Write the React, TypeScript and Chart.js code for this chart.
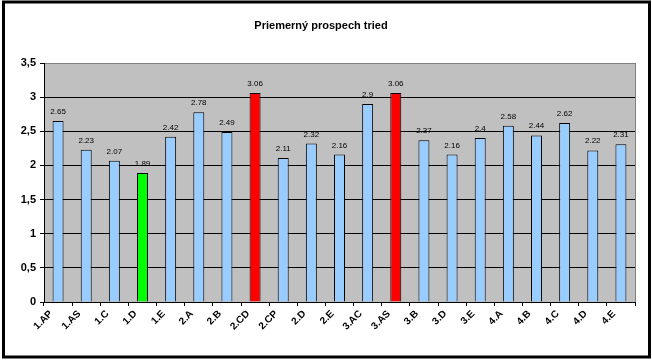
import React, { useEffect, useRef } from "react";
import { Chart, registerables } from "chart.js";

Chart.register(...registerables);

const TITLE = "Priemerný prospech tried";
const CATEGORIES = [
  "1.AP", "1.AS", "1.C", "1.D", "1.E", "2.A", "2.B", "2.CD", "2.CP", "2.D", "2.E",
  "3.AC", "3.AS", "3.B", "3.D", "3.E", "4.A", "4.B", "4.C", "4.D", "4.E",
];
const VALUES = [
  2.65, 2.23, 2.07, 1.89, 2.42, 2.78, 2.49, 3.06, 2.11, 2.32, 2.16,
  2.9, 3.06, 2.37, 2.16, 2.4, 2.58, 2.44, 2.62, 2.22, 2.31,
];
const RED_CATEGORIES = ["2.CD", "3.AS"];
const GREEN_CATEGORIES = ["1.D"];
const Y_MIN = 0;
const Y_MAX = 3.5;
const Y_STEP = 0.5;

const FONT = "'Liberation Sans', Arial, sans-serif";

const barColor = (c: string) =>
  RED_CATEGORIES.includes(c) ? "#ff0000" : GREEN_CATEGORIES.includes(c) ? "#00ff00" : "#99ccff";

const framePlugin = {
  id: "frame",
  beforeDraw(chart: any) {
    const { ctx, chartArea: a, width, height } = chart;
    ctx.save();
    ctx.fillStyle = "#ffffff";
    ctx.fillRect(0, 0, width, height);
    ctx.fillStyle = "#c0c0c0";
    ctx.fillRect(a.left, a.top, a.right - a.left, a.bottom - a.top);
    ctx.strokeStyle = "#808080";
    ctx.lineWidth = 1;
    ctx.strokeRect(a.left + 0.5, a.top + 0.5, a.right - a.left, a.bottom - a.top);
    ctx.restore();
  },
  afterDraw(chart: any) {
    const { ctx } = chart;
    ctx.save();
    // title
    ctx.fillStyle = "#000";
    ctx.font = `bold 11px ${FONT}`;
    ctx.textAlign = "center";
    ctx.textBaseline = "middle";
    ctx.fillText(TITLE, 321, 26);
    // outer frame
    ctx.strokeStyle = "#000";
    ctx.lineWidth = 3;
    ctx.strokeRect(3.5, 2, 646, 355);
    ctx.restore();
  },
  afterDatasetsDraw(chart: any) {
    const { ctx } = chart;
    const meta = chart.getDatasetMeta(0);
    ctx.save();
    ctx.fillStyle = "#000";
    ctx.font = `8px ${FONT}`;
    ctx.textAlign = "center";
    ctx.textBaseline = "alphabetic";
    meta.data.forEach((el: any, i: number) => {
      ctx.fillText(String(VALUES[i]), el.x, el.y - 7);
    });
    ctx.restore();
  },
};

export default function App() {
  const ref = useRef<HTMLCanvasElement | null>(null);
  useEffect(() => {
    if (!ref.current) return;
    const chart = new Chart(ref.current, {
      type: "bar",
      data: {
        labels: CATEGORIES,
        datasets: [
          {
            data: VALUES,
            backgroundColor: CATEGORIES.map(barColor),
            borderColor: "#000000",
            borderWidth: 1,
            barPercentage: 0.39,
            categoryPercentage: 1,
          },
        ],
      },
      options: {
        animation: false,
        responsive: false,
        devicePixelRatio: 1,
        layout: { padding: { top: 63, left: 0, right: 17, bottom: 0 } },
        plugins: {
          legend: { display: false },
          title: { display: false },
          tooltip: { enabled: false },
        },
        scales: {
          x: {
            offset: true,
            grid: {
              offset: true,
              drawOnChartArea: false,
              drawTicks: true,
              tickLength: 4,
              color: "#000",
            },
            border: { color: "#000", width: 1 },
            ticks: {
              minRotation: 45,
              maxRotation: 45,
              autoSkip: false,
              padding: 2,
              labelOffset: -7,
              color: "#000",
              font: { family: FONT, size: 10, weight: "bold" },
            },
            afterFit(scale: any) {
              scale.height = 58;
            },
          },
          y: {
            min: Y_MIN,
            max: Y_MAX,
            ticks: {
              stepSize: Y_STEP,
              padding: 4,
              color: "#000",
              font: { family: FONT, size: 11, weight: "bold" },
              callback: (v: any) => String(v).replace(".", ","),
            },
            grid: {
              color: (c: any) => (c.tick && c.tick.value === Y_MAX ? "#808080" : "#000"),
              tickColor: "#000",
              tickLength: 4,
              lineWidth: 1,
            },
            border: { color: "#000", width: 1 },
            afterFit(scale: any) {
              scale.width = 44;
            },
          },
        },
      },
      plugins: [framePlugin],
    });
    return () => chart.destroy();
  }, []);
  return (
    <div style={{ position: "fixed", left: 0, top: 0, width: 652, height: 360, background: "#fff" }}>
      <canvas ref={ref} width={652} height={360} style={{ display: "block", width: 652, height: 360 }} />
    </div>
  );
}
